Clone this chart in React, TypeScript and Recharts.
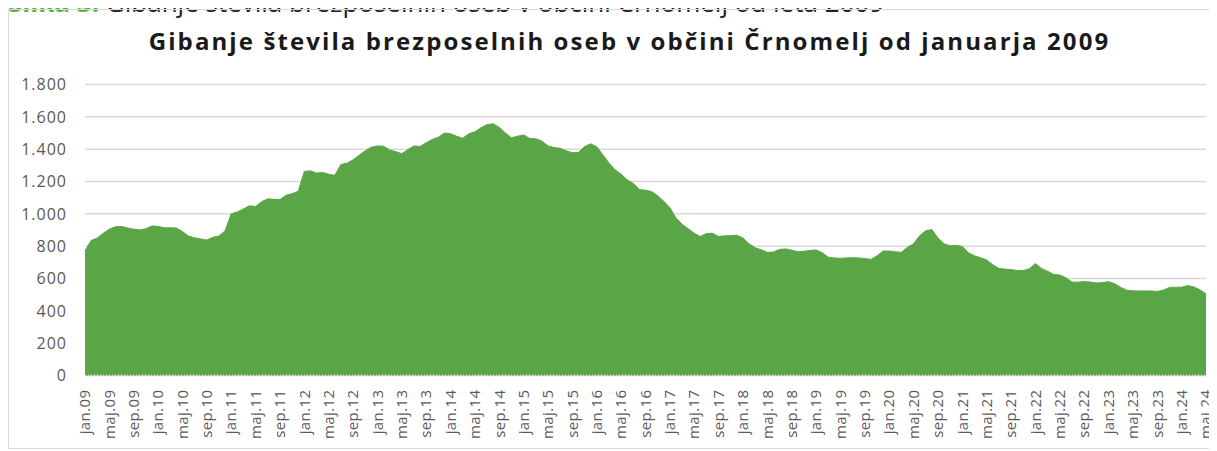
import React from 'react';
import { AreaChart, Area, XAxis, YAxis, CartesianGrid } from 'recharts';

const monthNames = ['jan', 'feb', 'mar', 'apr', 'maj', 'jun', 'jul', 'avg', 'sep', 'okt', 'nov', 'dec'];
const years = ['09', '10', '11', '12', '13', '14', '15', '16', '17', '18', '19', '20', '21', '22', '23', '24'];

const unemployed = [
  770, 835, 850, 880, 905, 920, 922, 912, 905, 900, 908, 925,
  922, 914, 914, 912, 890, 862, 852, 845, 838, 855, 863, 895,
  1000, 1012, 1030, 1050, 1045, 1075, 1093, 1090, 1088, 1115, 1125, 1140,
  1262, 1266, 1252, 1256, 1245, 1238, 1305, 1313, 1334, 1362, 1390, 1412,
  1420, 1418, 1395, 1385, 1372, 1398, 1420, 1416, 1440, 1460, 1474, 1500,
  1496, 1480, 1468, 1495, 1508, 1532, 1552, 1557, 1535, 1500, 1470, 1480,
  1488, 1466, 1464, 1450, 1420, 1410, 1405, 1390, 1378, 1380, 1416, 1433,
  1415, 1365, 1315, 1272, 1245, 1210, 1188, 1150, 1146, 1138, 1112, 1078,
  1038, 975, 935, 908, 880, 860, 878, 880, 860, 864, 865, 868,
  850, 815, 790, 778, 762, 764, 780, 783, 775, 765, 768, 774,
  777, 760, 732, 727, 725, 727, 729, 727, 724, 718, 740, 770,
  770, 765, 762, 793, 815, 865, 895, 903, 850, 815, 802, 805,
  798, 760, 740, 728, 715, 685, 662, 658, 655, 649, 649, 660,
  693, 662, 645, 625, 622, 605, 578, 577, 581, 578, 572, 575,
  580, 568, 545, 527, 524, 523, 523, 523, 520, 528, 545, 546,
  546, 556, 548, 530, 505,
];

const yTicks = [0, 200, 400, 600, 800, 1000, 1200, 1400, 1600, 1800];

const labels: string[] = [];
years.forEach((y) => monthNames.forEach((m) => labels.push(`${m}.${y}`)));

const data = unemployed.map((v, i) => ({ label: labels[i], v }));

const fmt = (n: number) => n.toLocaleString('de-DE');

const XTick = (props: any) => {
  const { x, y, payload } = props;
  return (
    <g transform={`translate(${x},${y + 6})`}>
      <text
        x={0}
        y={0}
        dy="0.35em"
        textAnchor="end"
        transform="rotate(-90)"
        fill="#595959"
        fontSize={15}
        letterSpacing={0.4}
        fontFamily="'Open Sans', sans-serif"
      >
        {payload.value}
      </text>
    </g>
  );
};

export default function App() {
  return (
    <div style={{ position: 'relative', width: 1217, height: 451, margin: '-8px 0 0 -8px', background: '#fff', overflow: 'hidden' }}>
      <div
        style={{
          position: 'absolute',
          left: 8,
          top: -11,
          fontFamily: "'Open Sans', sans-serif",
          fontSize: 26,
          lineHeight: '26px',
          whiteSpace: 'nowrap',
          color: '#222',
        }}
      >
        <span style={{ color: '#5cb043', fontWeight: 700 }}>Slika 3:</span> Gibanje števila brezposelnih oseb v občini Črnomelj od leta 2009
      </div>
      <div
        style={{
          position: 'absolute',
          left: 8,
          top: 9,
          width: 1204,
          height: 438,
          border: '1px solid #d9d9d9',
        }}
      />
      <div
        style={{
          position: 'absolute',
          left: 0,
          top: 29,
          width: 1217,
          textAlign: 'center',
          paddingLeft: 42,
          boxSizing: 'border-box',
          fontFamily: "'Open Sans', sans-serif",
          fontWeight: 700,
          fontSize: 24,
          lineHeight: '24px',
          letterSpacing: 2.1,
          color: '#1a1a1a',
          whiteSpace: 'nowrap',
        }}
      >
        Gibanje števila brezposelnih oseb v občini Črnomelj od januarja 2009
      </div>
      <div style={{ position: 'absolute', left: 0, top: 0 }}>
        <AreaChart
          width={1217}
          height={451}
          data={data}
          margin={{ top: 84.5, right: 11, bottom: 5, left: 0 }}
        >
          <CartesianGrid vertical={false} stroke="#d9d9d9" strokeWidth={1.5} />
          <XAxis
            dataKey="label"
            interval={3}
            height={70.5}
            tick={<XTick />}
            tickLine={false}
            axisLine={{ stroke: '#e3dbe0', strokeWidth: 2, strokeDasharray: '1 2' }}
          />
          <YAxis
            width={85}
            domain={[0, 1800]}
            ticks={yTicks}
            tickFormatter={fmt}
            tickLine={false}
            axisLine={false}
            tickSize={0}
            tickMargin={18}
            tick={{ fill: '#595959', fontSize: 16, letterSpacing: 1, fontFamily: "'Open Sans', sans-serif" }}
          />
          <Area
            type="linear"
            dataKey="v"
            fill="#5aa646"
            fillOpacity={1}
            stroke="#5aa646"
            strokeWidth={1}
            dot={false}
            activeDot={false}
            isAnimationActive={false}
          />
        </AreaChart>
      </div>
    </div>
  );
}
